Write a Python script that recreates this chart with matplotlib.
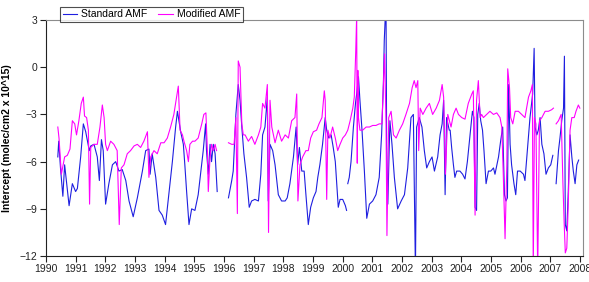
import numpy as np
import matplotlib
matplotlib.use("Agg")
import matplotlib.pyplot as plt

plt.rcParams["font.family"] = ["Liberation Sans", "DejaVu Sans"]

nan = np.nan

# Standard AMF (blue); nan = gap in the record
std_year = [
    1990.40, 1990.43, 1990.49, 1990.57, 1990.63, 1990.70, 1990.78, 1990.89,
    1991.00, 1991.06, 1991.17, 1991.26, 1991.34, 1991.42, 1991.46, 1991.51,
    1991.62, 1991.73, 1991.80, 1991.87, 1991.93, 1992.01, 1992.12, 1992.24,
    1992.35, 1992.46, 1992.57, 1992.69, 1992.80, 1992.94, 1993.08, 1993.25,
    1993.36, 1993.47, 1993.51, 1993.58, 1993.70, 1993.81, 1993.92, 1994.03,
    1994.15, 1994.26, 1994.37, 1994.43, 1994.54, 1994.63, 1994.68, 1994.74,
    1994.82, 1994.91, 1995.02, 1995.13, 1995.21, 1995.30, 1995.38, 1995.41,
    1995.47, 1995.53, 1995.58, 1995.64, 1995.70, 1995.77, 1995.95,
    1996.15, 1996.26, 1996.31, 1996.40, 1996.48, 1996.54, 1996.60, 1996.67,
    1996.76, 1996.85, 1996.93, 1997.04, 1997.16, 1997.24, 1997.30, 1997.38,
    1997.46, 1997.49, 1997.55, 1997.64, 1997.72, 1997.83, 1997.94, 1998.06,
    1998.13, 1998.22, 1998.34, 1998.43, 1998.48, 1998.54, 1998.62, 1998.70,
    1998.76, 1998.84, 1998.92, 1999.01, 1999.10, 1999.16, 1999.23, 1999.32,
    1999.41, 1999.46, 1999.53, 1999.61, 1999.68, 1999.75, 1999.80, 1999.85,
    1999.91, 2000.00, 2000.09, 2000.13, 2000.15,
    2000.17, 2000.22, 2000.28, 2000.36, 2000.43, 2000.47, 2000.53, 2000.58,
    2000.65, 2000.73, 2000.81, 2000.90, 2001.01, 2001.12, 2001.23, 2001.31,
    2001.37, 2001.40, 2001.44, 2001.46, 2001.48, 2001.52, 2001.59, 2001.66,
    2001.74, 2001.85, 2001.97, 2002.08, 2002.19, 2002.30, 2002.38, 2002.45,
    2002.49, 2002.58, 2002.67, 2002.75, 2002.83, 2002.92, 2003.01, 2003.09,
    2003.20, 2003.28, 2003.35, 2003.40, 2003.45, 2003.50, 2003.59, 2003.62,
    2003.67, 2003.73, 2003.78, 2003.84, 2003.95, 2004.04, 2004.12, 2004.20,
    2004.29, 2004.37, 2004.42, 2004.46, 2004.51, 2004.55, 2004.60, 2004.65,
    2004.71, 2004.76, 2004.83, 2004.91, 2004.99, 2005.08, 2005.13, 2005.25,
    2005.32, 2005.39, 2005.45, 2005.50, 2005.55, 2005.59, 2005.64, 2005.69,
    2005.77, 2005.83, 2005.89, 2005.98, 2006.09, 2006.14, 2006.22, 2006.31,
    2006.40, 2006.45, 2006.48, 2006.54, 2006.59, 2006.65, 2006.71, 2006.78,
    2006.85, 2006.93, 2007.01, 2007.08, 2007.13,
    2007.19, 2007.27, 2007.32, 2007.38, 2007.44, 2007.47, 2007.50, 2007.55,
    2007.60, 2007.66, 2007.72, 2007.77, 2007.83, 2007.89, 2007.95,
]
std_val = [
    -5.7, -4.7, -6.4, -8.2, -6.2, -7.4, -8.8, -7.4,
    -7.9, -7.7, -5.7, -3.6, -4.1, -4.9, -5.3, -5.0,
    -4.9, -5.7, -7.2, -4.6, -5.3, -8.7, -7.4, -6.2,
    -6.0, -6.6, -6.5, -7.2, -8.5, -9.5, -8.3, -6.6,
    -5.3, -5.2, -6.8, -5.5, -7.0, -9.1, -9.4, -10.0,
    -7.9, -6.0, -3.8, -2.8, -4.1, -4.9, -6.2, -7.9,
    -10.0, -9.0, -9.1, -8.1, -6.8, -5.3, -3.6, -5.3,
    -6.8, -4.9, -6.0, -4.9, -5.5, -7.9, nan,
    -8.3, -7.2, -6.6, -3.0, -1.1, -2.1, -3.8, -5.5,
    -7.0, -8.9, -8.5, -8.4, -8.5, -6.8, -4.3, -3.8,
    -1.9, -8.5, -4.9, -5.3, -6.2, -8.1, -8.5, -8.5,
    -8.3, -7.4, -5.7, -3.8, -6.2, -5.1, -6.6, -6.6,
    -8.1, -10.0, -8.9, -8.3, -7.9, -7.0, -6.2, -4.9,
    -3.2, -4.0, -4.5, -4.3, -5.1, -6.0, -7.4, -8.9,
    -8.4, -8.4, -8.8, -9.1, nan,
    -7.4, -7.0, -6.0, -3.8, -2.3, -1.7, -0.6, -2.1,
    -4.0, -6.6, -9.6, -8.7, -8.5, -8.1, -7.0, -4.3,
    -1.1, 1.7, 3.5, 3.5, -4.9, -8.7, -3.4, -4.9,
    -7.0, -9.0, -8.5, -8.1, -6.4, -3.2, -3.0, -13.0,
    -3.8, -3.2, -3.8, -5.3, -6.4, -6.0, -5.7, -6.6,
    -5.7, -4.3, -3.6, -2.1, -8.1, -3.2, -4.0, -4.0,
    -5.1, -6.2, -7.0, -6.6, -6.6, -6.8, -7.1, -6.0,
    -4.3, -2.8, -3.2, -8.9, -9.1, -3.0, -2.3, -3.4,
    -4.0, -5.3, -7.4, -6.6, -6.6, -6.4, -6.8, -5.7,
    -4.7, -3.8, -8.1, -8.5, -8.3, -1.1, -4.9, -6.2,
    -7.4, -8.1, -6.6, -6.6, -6.8, -7.2, -5.3, -3.2,
    -1.7, 1.2, -3.8, -4.3, -4.0, -3.2, -4.9, -5.5,
    -6.8, -6.4, -6.2, -5.6, nan,
    -7.4, -5.3, -4.5, -3.4, -2.6, 0.7, -10.0, -10.4,
    -7.9, -4.3, -5.7, -6.6, -7.4, -6.2, -5.9,
]

# Modified AMF (magenta)
mod_year = [
    1990.40, 1990.44, 1990.52, 1990.58, 1990.63, 1990.72, 1990.81, 1990.89,
    1990.97, 1991.03, 1991.11, 1991.19, 1991.26, 1991.30, 1991.37, 1991.43,
    1991.47, 1991.51, 1991.62, 1991.73, 1991.82, 1991.90, 1991.96, 1992.01,
    1992.07, 1992.18, 1992.29, 1992.40, 1992.47, 1992.54, 1992.63, 1992.74,
    1992.85, 1992.97, 1993.08, 1993.19, 1993.30, 1993.42, 1993.47, 1993.53,
    1993.64, 1993.75, 1993.87, 1993.98, 1994.09, 1994.20, 1994.31, 1994.46,
    1994.52, 1994.60, 1994.65, 1994.74, 1994.80, 1994.85, 1994.94, 1995.02,
    1995.13, 1995.25, 1995.32, 1995.39, 1995.44, 1995.47, 1995.53, 1995.58,
    1995.64, 1995.70, 1995.75, 1995.95,
    1996.15, 1996.26, 1996.34, 1996.40, 1996.45, 1996.48, 1996.54, 1996.60,
    1996.65, 1996.71, 1996.82, 1996.93, 1997.04, 1997.16, 1997.24, 1997.30,
    1997.38, 1997.46, 1997.50, 1997.55, 1997.61, 1997.72, 1997.83, 1997.94,
    1998.06, 1998.17, 1998.28, 1998.39, 1998.45, 1998.49, 1998.56, 1998.65,
    1998.76, 1998.84, 1998.92, 1999.01, 1999.12, 1999.20, 1999.30, 1999.38,
    1999.41, 1999.46, 1999.50, 1999.57, 1999.66, 1999.75, 1999.83, 1999.91,
    2000.00, 2000.09, 2000.17, 2000.25, 2000.34, 2000.39, 2000.44, 2000.47,
    2000.49, 2000.51, 2000.53, 2000.58, 2000.67, 2000.79, 2000.90, 2001.01,
    2001.12, 2001.23, 2001.32, 2001.37, 2001.41, 2001.46, 2001.49, 2001.55,
    2001.63, 2001.71, 2001.80, 2001.91, 2002.02, 2002.13, 2002.25, 2002.34,
    2002.41, 2002.47, 2002.53, 2002.56, 2002.61, 2002.70, 2002.81, 2002.92,
    2003.03, 2003.15, 2003.26, 2003.35, 2003.40, 2003.46, 2003.54, 2003.65,
    2003.73, 2003.82, 2003.90, 2004.01, 2004.12, 2004.23, 2004.35, 2004.40,
    2004.46, 2004.51, 2004.57, 2004.63, 2004.68, 2004.74, 2004.85, 2004.96,
    2005.08, 2005.19, 2005.30, 2005.36, 2005.41, 2005.47, 2005.53, 2005.56,
    2005.62, 2005.66, 2005.73, 2005.81, 2005.92, 2006.03, 2006.14, 2006.26,
    2006.34, 2006.39, 2006.42, 2006.46, 2006.51, 2006.57, 2006.63, 2006.71,
    2006.82, 2006.93, 2007.04, 2007.10, 2007.14,
    2007.19, 2007.27, 2007.36, 2007.42, 2007.46, 2007.50, 2007.55, 2007.60,
    2007.66, 2007.72, 2007.80, 2007.86, 2007.94, 2007.99,
]
mod_val = [
    -3.8, -4.5, -6.8, -6.2, -5.7, -5.6, -5.2, -3.4,
    -3.6, -4.3, -3.4, -2.3, -1.9, -3.1, -3.2, -4.0,
    -8.7, -5.1, -4.9, -4.9, -3.8, -2.4, -3.2, -4.9,
    -5.3, -4.7, -4.9, -5.3, -10.0, -6.4, -6.2, -5.5,
    -5.3, -5.0, -4.9, -5.1, -4.7, -4.1, -7.0, -5.7,
    -5.3, -5.5, -4.8, -4.8, -4.5, -3.8, -3.0, -1.2,
    -4.0, -4.3, -4.7, -5.3, -6.0, -4.9, -4.7, -4.7,
    -4.5, -3.6, -3.0, -2.9, -5.3, -7.9, -5.7, -4.9,
    -5.3, -4.9, -5.3, nan,
    -4.8, -4.9, -4.9, -3.2, -9.3, 0.4, 0.0, -3.6,
    -4.3, -4.3, -4.7, -4.4, -4.9, -4.3, -3.8, -2.3,
    -2.6, -1.1, -10.5, -2.1, -3.8, -4.8, -4.0, -4.7,
    -4.3, -4.5, -3.4, -3.2, -1.7, -8.5, -6.2, -5.7,
    -5.3, -5.3, -4.5, -4.1, -4.0, -3.6, -3.2, -1.5,
    -2.1, -8.4, -4.0, -4.5, -3.8, -4.5, -5.3, -4.9,
    -4.5, -4.3, -4.0, -3.4, -2.6, -1.9, 1.1, 3.3,
    -6.1, -0.2, -3.2, -4.0, -4.0, -3.8, -3.8, -3.7,
    -3.7, -3.6, -3.6, -1.1, 0.85, -3.6, -10.7, -3.2,
    -2.8, -4.3, -4.5, -4.0, -3.6, -3.0, -2.3, -1.3,
    -0.85, -1.3, -0.85, -5.3, -2.6, -3.0, -2.6, -2.3,
    -3.0, -2.6, -2.1, -1.1, -1.9, -6.8, -3.0, -3.8,
    -3.0, -2.6, -3.0, -3.2, -3.3, -2.3, -1.7, -1.5,
    -9.4, -2.1, -0.85, -3.2, -3.0, -3.2, -3.0, -2.8,
    -3.0, -2.9, -3.2, -3.8, -6.8, -10.9, -6.2, -0.1,
    -1.3, -3.2, -3.6, -2.8, -2.8, -3.0, -3.2, -1.9,
    -1.5, -1.1, -13.0, -3.2, -3.6, -13.0, -3.4, -3.2,
    -2.8, -2.8, -2.7, -2.6, nan,
    -3.6, -3.4, -3.0, -7.4, -9.8, -11.8, -11.5, -8.7,
    -4.0, -3.2, -3.2, -2.8, -2.4, -2.6,
]

year_ticks = list(range(1990, 2009))
y_ticks = [3, 0, -3, -6, -9, -12]

fig = plt.figure(figsize=(5.89, 2.82), dpi=100)
ax = fig.add_axes([0.078, 0.092, 0.912, 0.837])

ax.plot(std_year, std_val, color="#1f1fe0", lw=0.8, label="Standard AMF")
ax.plot(mod_year, mod_val, color="#ff00ff", lw=0.8, label="Modified AMF")

ax.set_xlim(1990, 2008.1)
ax.set_ylim(-12, 3)
ax.set_xticks(year_ticks)
ax.set_xticklabels([str(y) for y in year_ticks])
ax.set_yticks(y_ticks)
ax.tick_params(axis="both", direction="out", length=4, width=0.8,
               labelsize=7.5, colors="#222222", pad=2)

for side in ("top", "right"):
    ax.spines[side].set_color("#8c8c8c")
for side in ("left", "bottom"):
    ax.spines[side].set_color("#222222")

ax.set_ylabel("Intercept (molec/cm2 x 10^15)", fontsize=7.5,
              fontweight="bold", labelpad=6)

leg = fig.legend(loc="upper left", bbox_to_anchor=(0.093, 0.995), ncol=2,
                 fontsize=7.5, frameon=True, fancybox=False,
                 edgecolor="#222222", handlelength=1.4, handletextpad=0.4,
                 columnspacing=1.0, borderpad=0.25)
leg.get_frame().set_linewidth(0.8)

fig.savefig("out.png", dpi=100)
